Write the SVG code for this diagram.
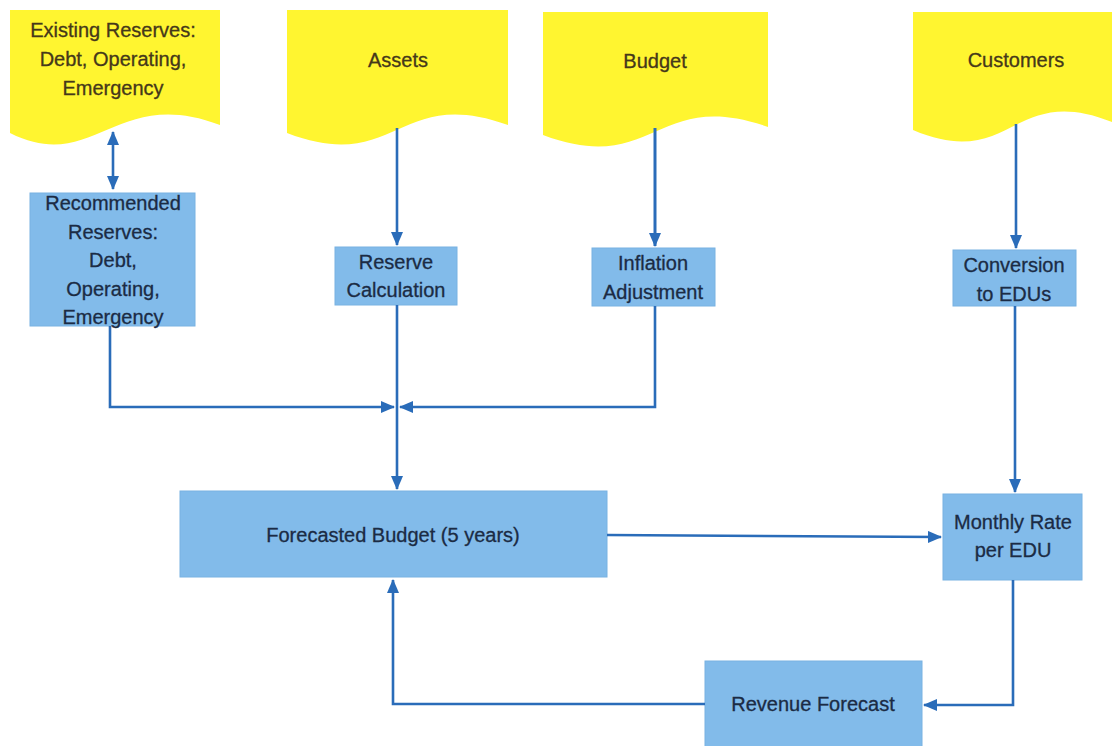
<svg xmlns="http://www.w3.org/2000/svg" width="1112" height="746" viewBox="0 0 1112 746">
<defs>
<style>
.doc{fill:#fff530;}
.box{fill:#82bbea;stroke:#78b2e2;stroke-width:1;}
.yt{font-family:"Liberation Sans",Arial,sans-serif;font-size:20px;fill:#45381a;text-anchor:middle;stroke:#45381a;stroke-width:0.3;}
.bt{font-family:"Liberation Sans",Arial,sans-serif;font-size:20px;fill:#1b2b44;text-anchor:middle;stroke:#1b2b44;stroke-width:0.3;}
.ln{fill:none;stroke:#2a6cb9;stroke-width:2.6;}
</style>
<marker id="ah" viewBox="0 0 14 12" refX="13" refY="6" markerWidth="14" markerHeight="12" markerUnits="userSpaceOnUse" orient="auto-start-reverse">
<path d="M0,0 L14,6 L0,12 Z" fill="#2a6cb9"/>
</marker>
</defs>
<rect width="1112" height="746" fill="#ffffff"/>

<g id="existing">
<path class="doc" d="M10,10 H220 V125 C115,85 94,175 10,133 Z"/>
<text class="yt" x="113" y="37">Existing Reserves:</text>
<text class="yt" x="113" y="66">Debt, Operating,</text>
<text class="yt" x="113" y="95">Emergency</text>
</g>
<g id="assets">
<path class="doc" d="M287,10 H508 V125 C397,85 397,175 287,133 Z"/>
<text class="yt" x="398" y="67">Assets</text>
</g>
<g id="budget">
<path class="doc" d="M543,12 H768 V127 C655,87 655,177 543,135 Z"/>
<text class="yt" x="655" y="68">Budget</text>
</g>
<g id="customers">
<path class="doc" d="M913,12 H1112 V122 C1012,82 1012,172 913,130 Z"/>
<text class="yt" x="1016" y="67">Customers</text>
</g>

<g id="recommended">
<rect class="box" x="30" y="193" width="165" height="133"/>
<text class="bt" x="113" y="210">Recommended</text>
<text class="bt" x="113" y="239">Reserves:</text>
<text class="bt" x="113" y="267">Debt,</text>
<text class="bt" x="113" y="296">Operating,</text>
<text class="bt" x="113" y="324">Emergency</text>
</g>
<g id="reservecalc">
<rect class="box" x="335" y="247" width="122" height="58"/>
<text class="bt" x="396" y="269">Reserve</text>
<text class="bt" x="396" y="297">Calculation</text>
</g>
<g id="inflation">
<rect class="box" x="592" y="248" width="123" height="58"/>
<text class="bt" x="653" y="270">Inflation</text>
<text class="bt" x="653" y="299">Adjustment</text>
</g>
<g id="conversion">
<rect class="box" x="953" y="250" width="123" height="56"/>
<text class="bt" x="1014" y="272">Conversion</text>
<text class="bt" x="1014" y="301">to EDUs</text>
</g>
<g id="forecasted">
<rect class="box" x="180" y="491" width="427" height="86"/>
<text class="bt" x="393" y="542">Forecasted Budget (5 years)</text>
</g>
<g id="monthly">
<rect class="box" x="943" y="494" width="139" height="86"/>
<text class="bt" x="1013" y="529">Monthly Rate</text>
<text class="bt" x="1013" y="557">per EDU</text>
</g>
<g id="revenue">
<rect class="box" x="705" y="661" width="217" height="90"/>
<text class="bt" x="813" y="711">Revenue Forecast</text>
</g>

<g id="connectors">
<path class="ln" d="M113,132 V189" marker-start="url(#ah)" marker-end="url(#ah)"/>
<path class="ln" d="M397,128 V245" marker-end="url(#ah)"/>
<path class="ln" d="M655,128 V246" style="stroke-width:3" marker-end="url(#ah)"/>
<path class="ln" d="M1016,124 V248" marker-end="url(#ah)"/>
<path class="ln" d="M110,326 V407 H394" marker-end="url(#ah)"/>
<path class="ln" d="M655,306 V407 H400" marker-end="url(#ah)"/>
<path class="ln" d="M397,305 V489" marker-end="url(#ah)"/>
<path class="ln" d="M607,535 L941,537" marker-end="url(#ah)"/>
<path class="ln" d="M1015,306 V492" marker-end="url(#ah)"/>
<path class="ln" d="M1013,580 V705 H924" marker-end="url(#ah)"/>
<path class="ln" d="M705,704 H393 V580" marker-end="url(#ah)"/>
</g>
</svg>
